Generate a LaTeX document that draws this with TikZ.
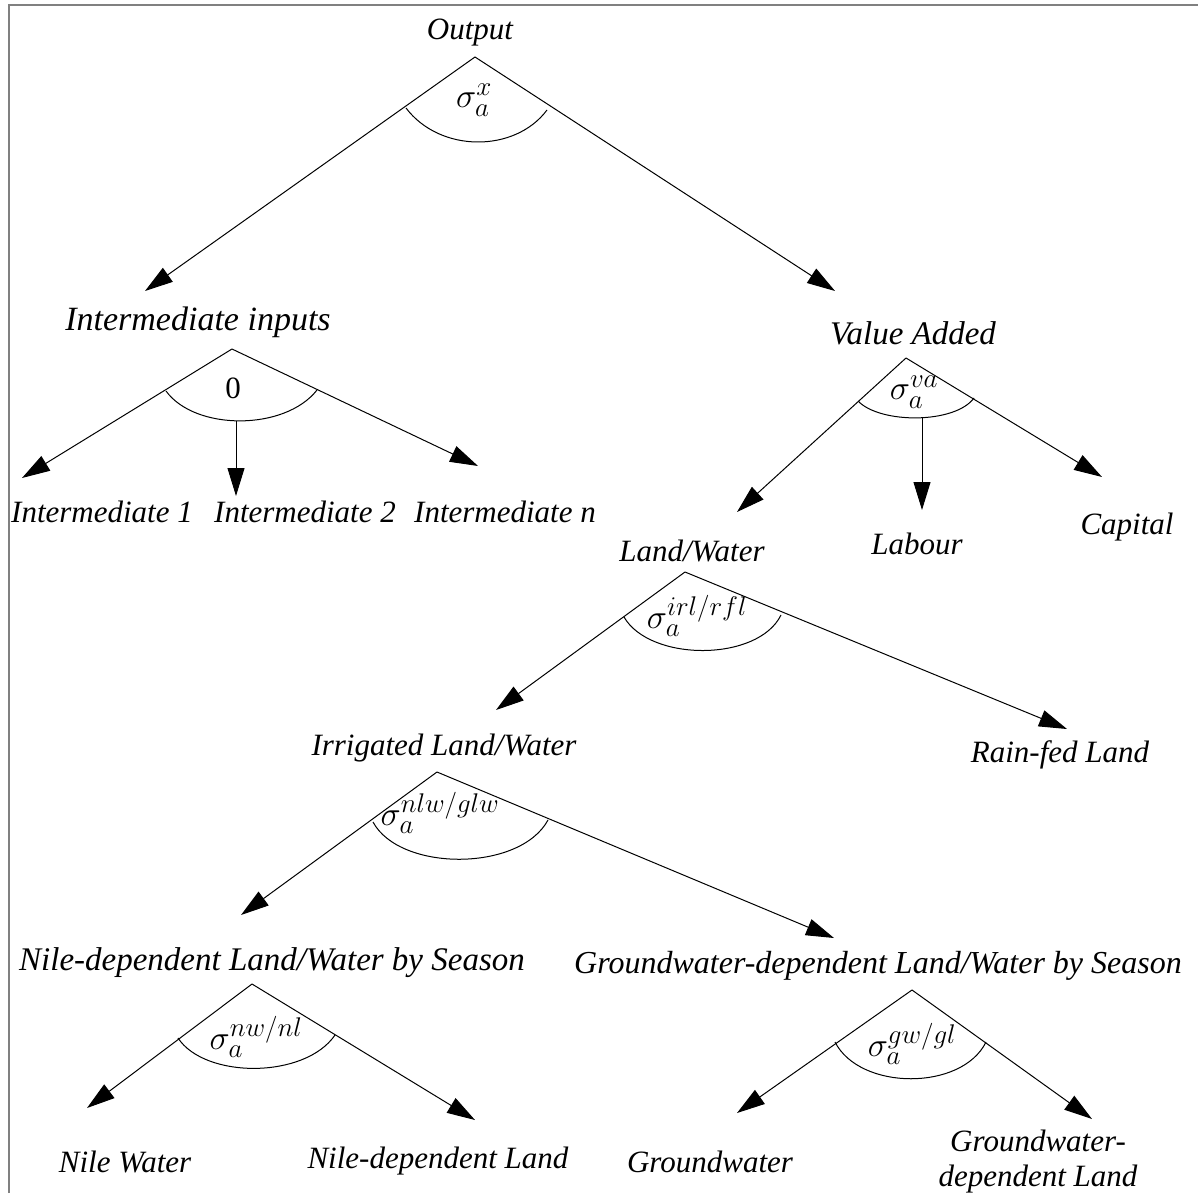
\RequirePackage{fix-cm}
\documentclass[tikz,border=0pt]{standalone}
\usepackage{fontspec}
\setmainfont{Liberation Serif}
\DeclareMathSizes{34}{34}{27}{20}
\usetikzlibrary{arrows.meta}
\begin{document}
\begin{tikzpicture}[x=1pt,y=-1pt,
 lab/.style={font=\fontsize{31}{35}\selectfont\itshape, inner sep=0pt, anchor=center, align=center},
 sig/.style={font=\fontsize{34}{40}\selectfont, inner sep=0pt},
 edge/.style={line width=1pt, -{Triangle[length=28pt,width=17pt]}},
 arcl/.style={line width=1pt},
 frame/.style={draw=gray, line width=2pt}]
\useasboundingbox (0,0) rectangle (1198,1193);
\draw[frame] (9,1193) -- (9,5) -- (1198,5);

% Level 0
\node[lab] (out) at (470,33) {Output};
\coordinate (a1) at (475,57);
\coordinate (t1L) at (145,291);
\coordinate (t1R) at (835,291);
\draw[edge] (a1) -- (t1L);
\draw[edge] (a1) -- (t1R);
\draw[arcl] (406,108) .. controls (440,153) and (515,153) .. (547,110);
\node[sig] (s1) at (474,100) {$\sigma_a^{x}$};

% Intermediate inputs
\node[lab, font=\fontsize{34}{38}\selectfont\itshape] (ii) at (198,322) {Intermediate inputs};
\coordinate (a2) at (232,349);
\coordinate (b2) at (236,421);
\coordinate (t2L) at (22,478);
\coordinate (t2M) at (236,496);
\coordinate (t2R) at (478,466);
\draw[edge] (a2) -- (t2L);
\draw[edge] (a2) -- (t2R);
\draw[edge] (b2) -- (t2M);
\draw[arcl] (166,391) .. controls (195,431) and (285,431) .. (317,390);
\node[font=\fontsize{31}{36}\selectfont, inner sep=0pt] (s2) at (233,388) {0};
\node[lab] (i1) at (102,512) {Intermediate 1};
\node[lab] (i2) at (305,512) {Intermediate 2};
\node[lab] (in) at (505,512) {Intermediate n};

% Value added
\node[lab, font=\fontsize{33}{38}\selectfont\itshape] (va) at (913,333) {Value Added};
\coordinate (a3) at (906,358);
\coordinate (b3) at (922,418);
\coordinate (t3L) at (737,512);
\coordinate (t3M) at (922,510);
\coordinate (t3R) at (1102,477);
\draw[edge] (a3) -- (t3L);
\draw[edge] (a3) -- (t3R);
\draw[edge] (b3) -- (t3M);
\draw[arcl] (858,401) .. controls (880,424) and (955,424) .. (974,398);
\node[sig] (s3) at (914,392) {$\sigma_a^{va}$};
\node[lab] (lw) at (692,551) {Land/Water};
\node[lab] (lab) at (917,544) {Labour};
\node[lab] (cap) at (1127,527) {Capital};

% Land/Water
\coordinate (a4) at (685,572);
\coordinate (t4L) at (496,710);
\coordinate (t4R) at (1067,729);
\draw[edge] (a4) -- (t4L);
\draw[edge] (a4) -- (t4R);
\draw[arcl] (624,617) .. controls (650,662) and (758,662) .. (781,615);
\node[sig] (s4) at (697,616) {$\sigma_a^{irl/rfl}$};
\node[lab] (ir) at (444,748) {Irrigated Land/Water};
\node[lab] (rf) at (1060,755) {Rain-fed Land};

% Irrigated
\coordinate (a5) at (437,772);
\coordinate (t5L) at (241,915);
\coordinate (t5R) at (834,938);
\draw[edge] (a5) -- (t5L);
\draw[edge] (a5) -- (t5R);
\draw[arcl] (373,822) .. controls (400,872) and (520,872) .. (548,820);
\node[sig] (s5) at (440,813) {$\sigma_a^{nlw/glw}$};
\node[lab, font=\fontsize{33}{38}\selectfont\itshape] (nd) at (272,963) {Nile-dependent Land/Water by Season};
\node[lab, font=\fontsize{32}{37}\selectfont\itshape] (gd) at (878,966) {Groundwater-dependent Land/Water by Season};

% Nile
\coordinate (a6) at (252,984);
\coordinate (t6L) at (87,1108);
\coordinate (t6R) at (475,1120);
\draw[edge] (a6) -- (t6L);
\draw[edge] (a6) -- (t6R);
\draw[arcl] (178,1038) .. controls (205,1079) and (305,1079) .. (335,1035);
\node[sig] (s6) at (256,1037) {$\sigma_a^{nw/nl}$};
\node[lab] (nw) at (125,1162) {Nile Water};
\node[lab] (nl) at (438,1161) {Nile-dependent Land};

% Groundwater
\coordinate (a7) at (912,990);
\coordinate (t7L) at (737,1113);
\coordinate (t7R) at (1092,1119);
\draw[edge] (a7) -- (t7L);
\draw[edge] (a7) -- (t7R);
\draw[arcl] (835,1042) .. controls (860,1091) and (962,1091) .. (986,1042);
\node[sig] (s7) at (912,1044) {$\sigma_a^{gw/gl}$};
\node[lab] (gw) at (710,1162) {Groundwater};
\node[lab] (gl) at (1038,1162) {Groundwater-\\dependent Land};
\end{tikzpicture}
\end{document}
